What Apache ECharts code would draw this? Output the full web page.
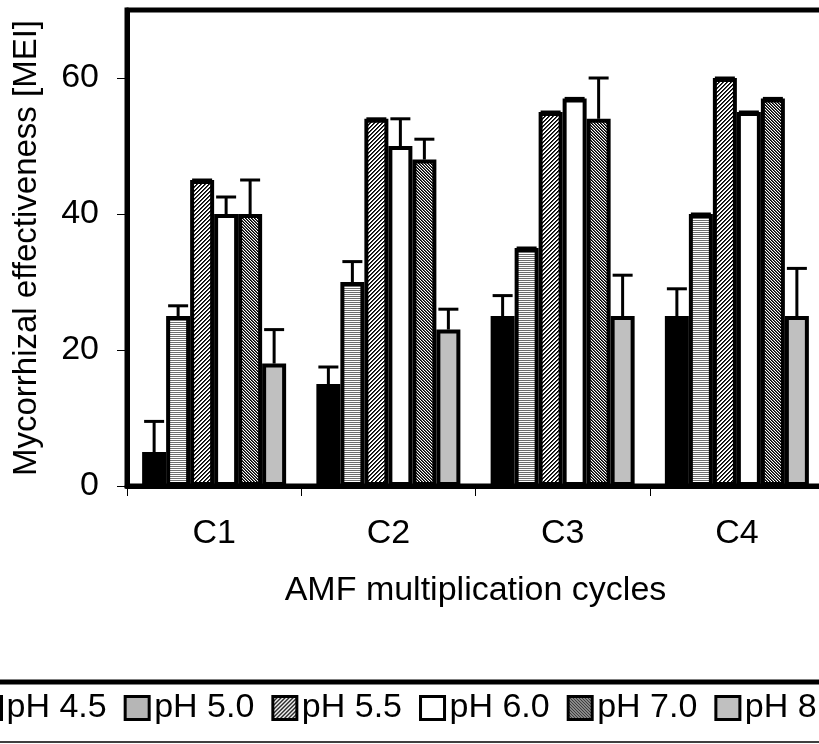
<!DOCTYPE html>
<html>
<head>
<meta charset="utf-8">
<title>Mycorrhizal effectiveness</title>
<script src="https://cdn.jsdelivr.net/npm/echarts@6/dist/echarts.min.js"></script>
<style>
  html, body { margin: 0; padding: 0; background: #fff; }
  #main { width: 819px; height: 744px; }
</style>
</head>
<body>
<div id="main"></div>
<script>
  // data
  var cycles = ['C1', 'C2', 'C3', 'C4']
  var phNames = ['pH 4.5', 'pH 5.0', 'pH 5.5', 'pH 6.0', 'pH 7.0', 'pH 8.0']

  var ph45 = [5, 15, 25, 25]
  var ph50 = [25, 30, 35, 40]
  var ph55 = [45, 54, 55, 60]
  var ph60 = [40, 50, 57, 55]
  var ph70 = [40, 48, 54, 57]
  var ph80 = [18, 23, 25, 25]

  // upper error (SD)
  var err45 = [4.5, 2.5, 3, 4]
  var err50 = [1.5, 3, 0, 0]
  var err55 = [0, 0, 0, 0]
  var err60 = [2.5, 4, 0, 0]
  var err70 = [5, 3, 6, 0]
  var err80 = [5, 3, 6, 7]

  var yTicks = [0, 20, 40, 60]

  var values = [ph45, ph50, ph55, ph60, ph70, ph80]
  var errors = [err45, err50, err55, err60, err70, err80]

  // small canvases used as fill patterns
  function makePattern(w, h, draw) {
    var c = document.createElement('canvas')
    c.width = w
    c.height = h
    var ctx = c.getContext('2d')
    ctx.fillStyle = '#ffffff'
    ctx.fillRect(0, 0, w, h)
    for (var y = 0; y < h; y++) {
      for (var x = 0; x < w; x++) {
        var col = draw(x, y)
        if (col) {
          ctx.fillStyle = col
          ctx.fillRect(x, y, 1, 1)
        }
      }
    }
    return { image: c, repeat: 'repeat' }
  }

  var fills = [
    '#000000',
    // horizontal lines
    makePattern(2, 2, function(x, y) { return y === 0 ? '#6e6e6e' : null }),
    // fine "////" hatch
    makePattern(4, 4, function(x, y) {
      var k = (x + y) % 4
      return k === 0 ? '#000' : (k === 1 ? '#3a3a3a' : null)
    }),
    '#ffffff',
    // fine "\\\\" hatch, a bit darker
    makePattern(3, 3, function(x, y) {
      var k = (x - y + 6) % 3
      return k === 0 ? '#000' : (k === 1 ? '#505050' : null)
    }),
    '#c0c0c0'
  ]

  var barW = 24
  var font = 'Liberation Sans'
  var fs = 34

  var series = phNames.map(function(name, i) {
    return {
      name: name,
      type: 'bar',
      barWidth: barW,
      barGap: '0%',
      data: values[i],
      itemStyle: {
        color: fills[i],
        borderColor: '#000',
        borderWidth: 4
      },
      emphasis: { disabled: true }
    }
  })

  // error bars: [category index, series index, value, value + err]
  var errData = []
  values.forEach(function(arr, s) {
    arr.forEach(function(v, c) {
      errData.push([c, s, v, v + errors[s][c]])
    })
  })

  series.push({
    name: 'err',
    type: 'custom',
    z: 5,
    data: errData,
    encode: { x: 0, y: [2, 3] },
    renderItem: function(params, api) {
      var s = api.value(1)
      var p0 = api.coord([api.value(0), api.value(2)])
      var p1 = api.coord([api.value(0), api.value(3)])
      var x = p0[0] + (s - 2.5) * barW
      var st = { stroke: '#000', lineWidth: 3 }
      return {
        type: 'group',
        children: [
          { type: 'line', shape: { x1: x, y1: p0[1], x2: x, y2: p1[1] }, style: st },
          { type: 'line', shape: { x1: x - 10, y1: p1[1], x2: x + 10, y2: p1[1] }, style: st }
        ]
      }
    }
  })

  var myChart = echarts.init(document.getElementById('main'), null, { renderer: 'canvas' })
  myChart.setOption({
    animation: false,
    textStyle: { fontFamily: font, color: '#000' },
    grid: {
      left: 127,
      right: -5,
      top: 10,
      bottom: 258,
      show: true,
      borderColor: '#000',
      borderWidth: 5,
      backgroundColor: 'transparent',
      outerBoundsMode: 'none'
    },
    legend: {
      data: phNames,
      left: -24,
      top: 691,
      width: 1200,
      padding: 0,
      icon: 'rect',
      itemWidth: 24,
      itemHeight: 23,
      itemGap: 17,
      selectedMode: false,
      itemStyle: { borderColor: '#000', borderWidth: 3 },
      textStyle: { fontFamily: font, fontSize: fs, color: '#000' }
    },
    graphic: [
      { type: 'line', shape: { x1: 0, y1: 682, x2: 819, y2: 682 }, style: { stroke: '#000', lineWidth: 5 } },
      { type: 'line', shape: { x1: 0, y1: 742, x2: 819, y2: 742 }, style: { stroke: '#000', lineWidth: 1.5 } }
    ],
    xAxis: {
      type: 'category',
      data: cycles,
      z: 10,
      name: 'AMF multiplication cycles',
      nameLocation: 'middle',
      nameGap: 88,
      nameTextStyle: { fontFamily: font, fontSize: fs, color: '#000' },
      axisLine: { lineStyle: { color: '#000', width: 5 } },
      axisTick: { show: true, length: 10, lineStyle: { color: '#000', width: 1 } },
      axisLabel: { fontFamily: font, fontSize: fs, color: '#000', margin: 31 },
      splitLine: { show: false }
    },
    yAxis: {
      type: 'value',
      min: 0,
      max: 70,
      interval: 20,
      z: 10,
      name: 'Mycorrhizal effectiveness [MEI]',
      nameLocation: 'middle',
      nameGap: 84,
      nameTextStyle: { fontFamily: font, fontSize: 33, color: '#000' },
      axisLine: { show: true, lineStyle: { color: '#000', width: 5 } },
      axisTick: { show: true, length: 10, customValues: yTicks, lineStyle: { color: '#000', width: 1 } },
      axisLabel: { fontFamily: font, fontSize: fs, color: '#000', margin: 28, customValues: yTicks },
      splitLine: { show: false }
    },
    series: series
  })
</script>
</body>
</html>
